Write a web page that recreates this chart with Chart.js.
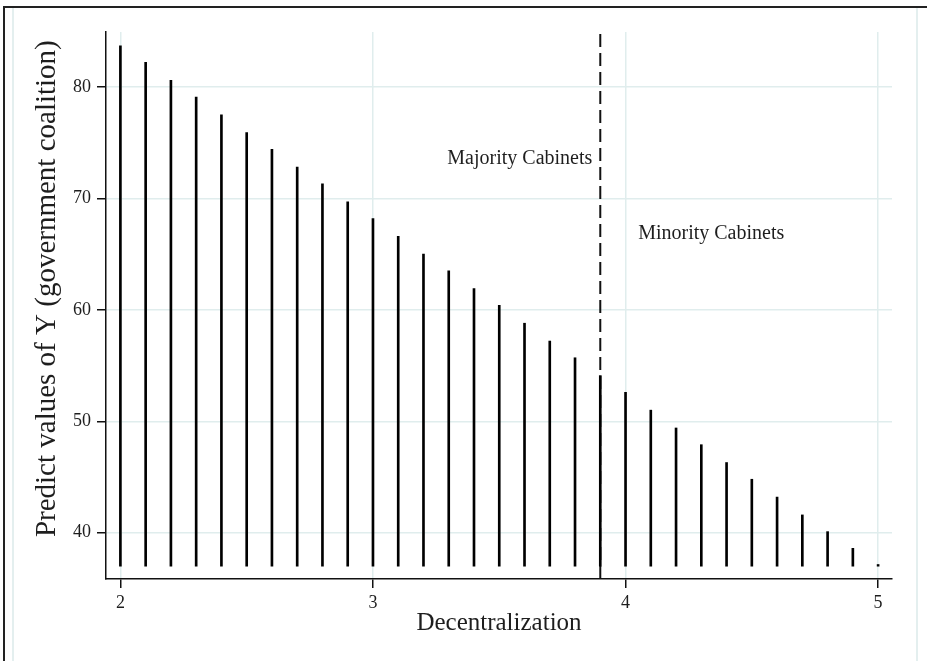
<!DOCTYPE html>
<html>
<head>
<meta charset="utf-8">
<script src="https://cdn.jsdelivr.net/npm/chart.js@4.4.1/dist/chart.umd.min.js"></script>
<style>
html, body { margin: 0; padding: 0; background: #fff; }
#wrap { position: relative; width: 927px; height: 661px; overflow: hidden; background: #fff; }
#outer { position: absolute; left: 3px; top: 6px; width: 960px; height: 700px; border-left: 2px solid #222; border-top: 2px solid #222; }
#inner { position: absolute; left: 12px; top: 8px; width: 902px; height: 700px; border-left: 2px solid #e4efef; border-right: 2px solid #e4efef; }
#chart { position: absolute; left: 0; top: 0; }
</style>
</head>
<body>
<div id="wrap">
  <div id="outer"></div>
  <div id="inner"></div>
  <canvas id="chart" width="927" height="661"></canvas>
</div>
<script>
// decentralization values (x) and predicted Y for each spike
const decentralization = [2.0, 2.1, 2.2, 2.3, 2.4, 2.5, 2.6, 2.7, 2.8, 2.9,
  3.0, 3.1, 3.2, 3.3, 3.4, 3.5, 3.6, 3.7, 3.8, 3.9,
  4.0, 4.1, 4.2, 4.3, 4.4, 4.5, 4.6, 4.7, 4.8, 4.9, 5.0]
const predicted = [83.7, 82.2, 80.6, 79.1, 77.5, 75.9, 74.4, 72.8, 71.3, 69.7,
  68.2, 66.6, 65.0, 63.5, 61.9, 60.4, 58.8, 57.2, 55.7, 54.1,
  52.6, 51.0, 49.4, 47.9, 46.3, 44.8, 43.2, 41.6, 40.1, 38.6, 37.15]
const spikeBase = 37.0
const cutoff = 3.9
const xTicks = [2, 3, 4, 5]
const yTicks = [40, 50, 60, 70, 80]
const yTitle = 'Predict values of Y (government coalition)'
const notes = [
  {text: 'Majority Cabinets', x: 3.9, y: 73.6, align: 'right', dx: -8},
  {text: 'Minority Cabinets', x: 4.05, y: 66.85, align: 'left', dx: 0}
]

const xMin = 1.943, xMax = 5.055
const yMin = 35.85, yMax = 84.93
const serif = "'Liberation Serif', 'Times New Roman', serif"
const textColor = '#1e1e1e'
const gridColor = '#e0eded'

Chart.defaults.font.family = serif
Chart.defaults.color = textColor

// text labels: the two cabinet notes and the y axis title
const notesPlugin = {
  id: 'notes',
  afterDatasetsDraw(chart) {
    let ctx = chart.ctx
    let xs = chart.scales.x, ys = chart.scales.y
    ctx.save()
    ctx.font = '20px ' + serif
    ctx.fillStyle = textColor
    ctx.textBaseline = 'middle'
    for (let n of notes) {
      ctx.textAlign = n.align
      ctx.fillText(n.text, xs.getPixelForValue(n.x) + n.dx, ys.getPixelForValue(n.y))
    }
    ctx.translate(47, ys.getPixelForValue(61.9))
    ctx.rotate(-Math.PI / 2)
    ctx.font = '29px ' + serif
    ctx.textAlign = 'center'
    ctx.fillText(yTitle, 0, 0)
    ctx.restore()
  }
}

let ctx = document.getElementById('chart').getContext('2d')
let chart = new Chart(ctx, {
  data: {
    datasets: [{
      type: 'line',
      data: [{x: cutoff, y: yMin}, {x: cutoff, y: yMax}],
      borderColor: '#111',
      borderWidth: 2,
      borderDash: [13, 6],
      pointRadius: 0,
      order: 2
    },
    {
      type: 'bar',
      data: decentralization.map((x, i) => ({x: x, y: [spikeBase, predicted[i]]})),
      backgroundColor: '#000',
      borderWidth: 0,
      barThickness: 2,
      order: 1
    }]
  },
  options: {
    responsive: false,
    animation: false,
    devicePixelRatio: 1,
    layout: {padding: {left: 0, top: 32, right: 35, bottom: 0}},
    plugins: {legend: {display: false}, tooltip: {enabled: false}},
    scales: {
      x: {
        type: 'linear',
        min: xMin,
        max: xMax,
        offset: false,
        afterBuildTicks: axis => { axis.ticks = xTicks.map(v => ({value: v})) },
        afterFit: axis => { axis.height = 82 },
        grid: {offset: false, color: gridColor, lineWidth: 1.5, tickColor: '#111', tickLength: 9, tickWidth: 1.5},
        border: {color: '#111', width: 1.5},
        ticks: {font: {size: 18}, color: textColor, padding: 4, maxRotation: 0},
        title: {display: true, text: 'Decentralization', font: {size: 25}, color: textColor, padding: {top: 0, bottom: 23}}
      },
      y: {
        min: yMin,
        max: yMax,
        afterBuildTicks: axis => { axis.ticks = yTicks.map(v => ({value: v})) },
        afterFit: axis => { axis.width = 106 },
        grid: {color: gridColor, lineWidth: 1.5, tickColor: '#111', tickLength: 9, tickWidth: 1.5},
        border: {color: '#111', width: 1.5},
        ticks: {font: {size: 18}, color: textColor, padding: 6}
      }
    }
  },
  plugins: [notesPlugin]
})
</script>
</body>
</html>
